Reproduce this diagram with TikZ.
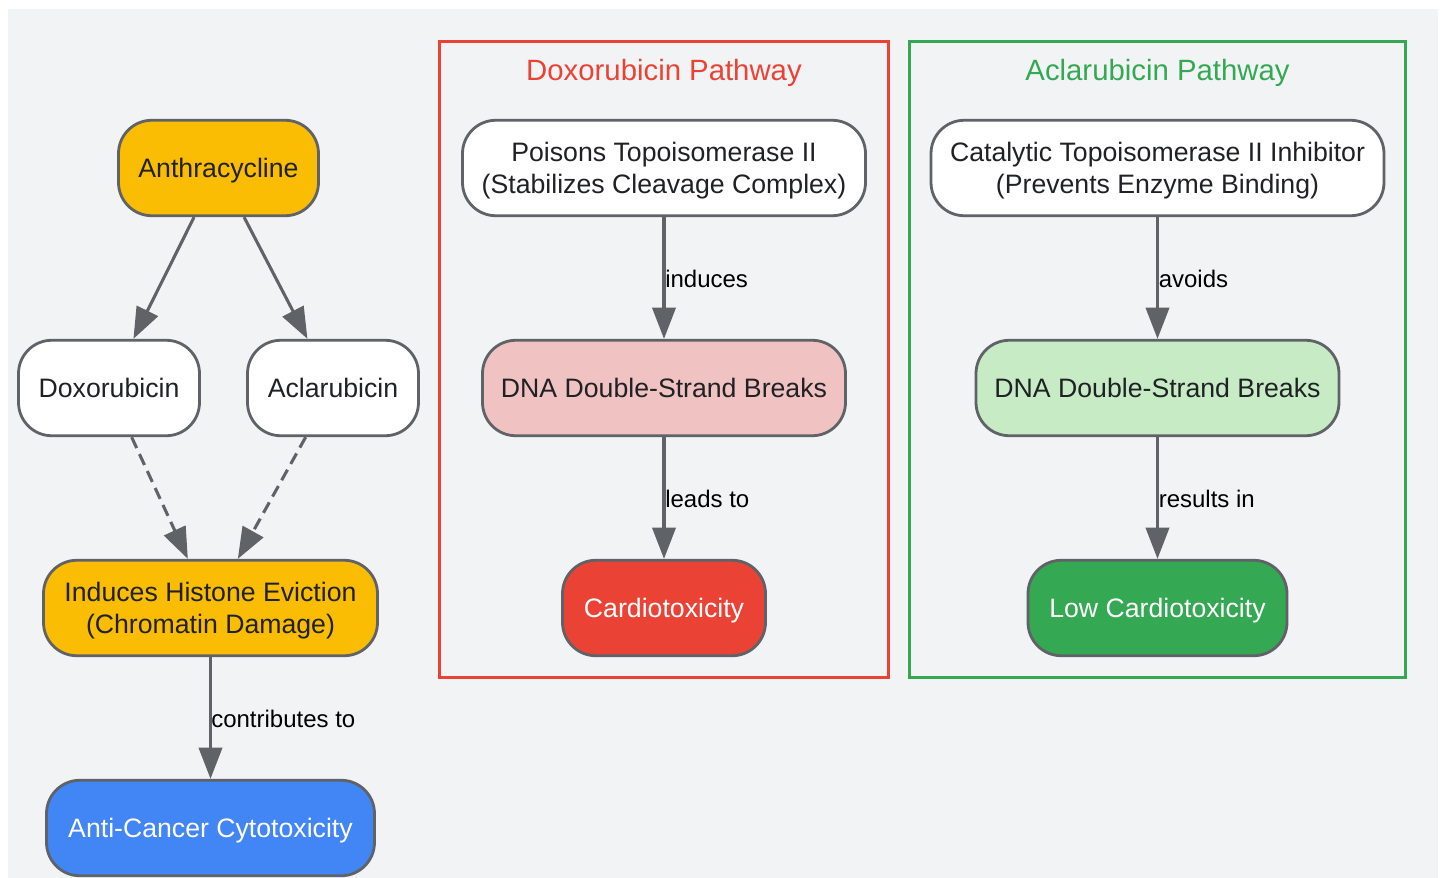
\documentclass[tikz,border=0pt]{standalone}
\usepackage{fontspec}
\setmainfont{Liberation Sans}
\usetikzlibrary{arrows.meta}
\definecolor{bgc}{HTML}{F1F3F5}
\definecolor{linec}{HTML}{5F6368}
\definecolor{inkc}{HTML}{202124}
\definecolor{yel}{HTML}{FBBC04}
\definecolor{blu}{HTML}{4285F4}
\definecolor{redc}{HTML}{EA4335}
\definecolor{grn}{HTML}{34A853}
\definecolor{pinkc}{HTML}{F0C2C2}
\definecolor{lgrn}{HTML}{C6EBC5}
\newcommand{\lnst}{\rule[-4.5pt]{0pt}{22.5pt}}
\tikzset{
  x=0.75pt,y=-0.75pt,
  nodebox/.style={draw=linec,line width=2.1pt,rounded corners=25pt,minimum height=71.6pt,inner sep=0pt,align=center,
     font=\fontsize{20}{24}\selectfont,text=inkc,anchor=center},
  cluster/.style={line width=2.25pt,fill=none},
  clustertitle/.style={font=\fontsize{22}{26}\selectfont,inner sep=0pt},
  conn/.style={draw=linec,line width=2.3pt,-{Triangle[length=23.5pt,width=17.5pt,fill=linec]},shorten >=0pt},
  dashconn/.style={conn,dash pattern=on 9pt off 5pt},
  elabel/.style={font=\fontsize{18}{22}\selectfont,text=black,inner sep=0pt,anchor=west},
}
\begin{document}
\begin{tikzpicture}
\useasboundingbox (0,0) rectangle (1443,878);
\fill[bgc] (8,9) rectangle (1438,878);
\draw[cluster,draw=redc] (439.7,41) rectangle (888,677);
\draw[cluster,draw=grn] (909,41) rectangle (1405.5,677);
\node[clustertitle,text=redc] (t1) at (664,73) {Doxorubicin Pathway};
\node[clustertitle,text=grn] (t2) at (1157.5,73) {Aclarubicin Pathway};
\node[nodebox,fill=yel,minimum width=150pt] (a) at (218.5,168) {\lnst Anthracycline};
\node[nodebox,fill=white,minimum width=135.75pt] (d) at (109,388) {\lnst Doxorubicin};
\node[nodebox,fill=white,minimum width=128.25pt] (c) at (333,388) {\lnst Aclarubicin};
\node[nodebox,fill=yel,minimum width=250.5pt] (h) at (210.5,608) {\lnst Induces Histone Eviction\\\lnst (Chromatin Damage)};
\node[nodebox,fill=blu,minimum width=246pt,text=white] (k) at (210.5,828) {\lnst Anti-Cancer Cytotoxicity};
\node[nodebox,fill=white,minimum width=302.25pt] (p) at (664,168) {\lnst Poisons Topoisomerase II\\\lnst (Stabilizes Cleavage Complex)};
\node[nodebox,fill=pinkc,minimum width=272.25pt] (b1) at (664,388) {\lnst DNA Double-Strand Breaks};
\node[nodebox,fill=redc,minimum width=152.25pt,text=white] (r) at (664,608) {\lnst Cardiotoxicity};
\node[nodebox,fill=white,minimum width=339.75pt] (q) at (1157.5,168) {\lnst Catalytic Topoisomerase II Inhibitor\\\lnst (Prevents Enzyme Binding)};
\node[nodebox,fill=lgrn,minimum width=272.25pt] (b2) at (1157.5,388) {\lnst DNA Double-Strand Breaks};
\node[nodebox,fill=grn,minimum width=194.25pt,text=white] (l) at (1157.5,608) {\lnst Low Cardiotoxicity};
\draw[conn] (a) -- (d);
\draw[conn] (a) -- (c);
\draw[dashconn] (d) -- (h);
\draw[dashconn] (c) -- (h);
\draw[conn] (h) -- (k);
\draw[conn] (p) -- (b1);
\draw[conn] (b1) -- (r);
\draw[conn] (q) -- (b2);
\draw[conn] (b2) -- (l);
\node[elabel] (e1) at (211,719) {contributes to};
\node[elabel] (e2) at (665,279) {induces};
\node[elabel] (e3) at (665,499) {leads to};
\node[elabel] (e4) at (1158.5,279) {avoids};
\node[elabel] (e5) at (1158.5,499) {results in};
\end{tikzpicture}
\end{document}
